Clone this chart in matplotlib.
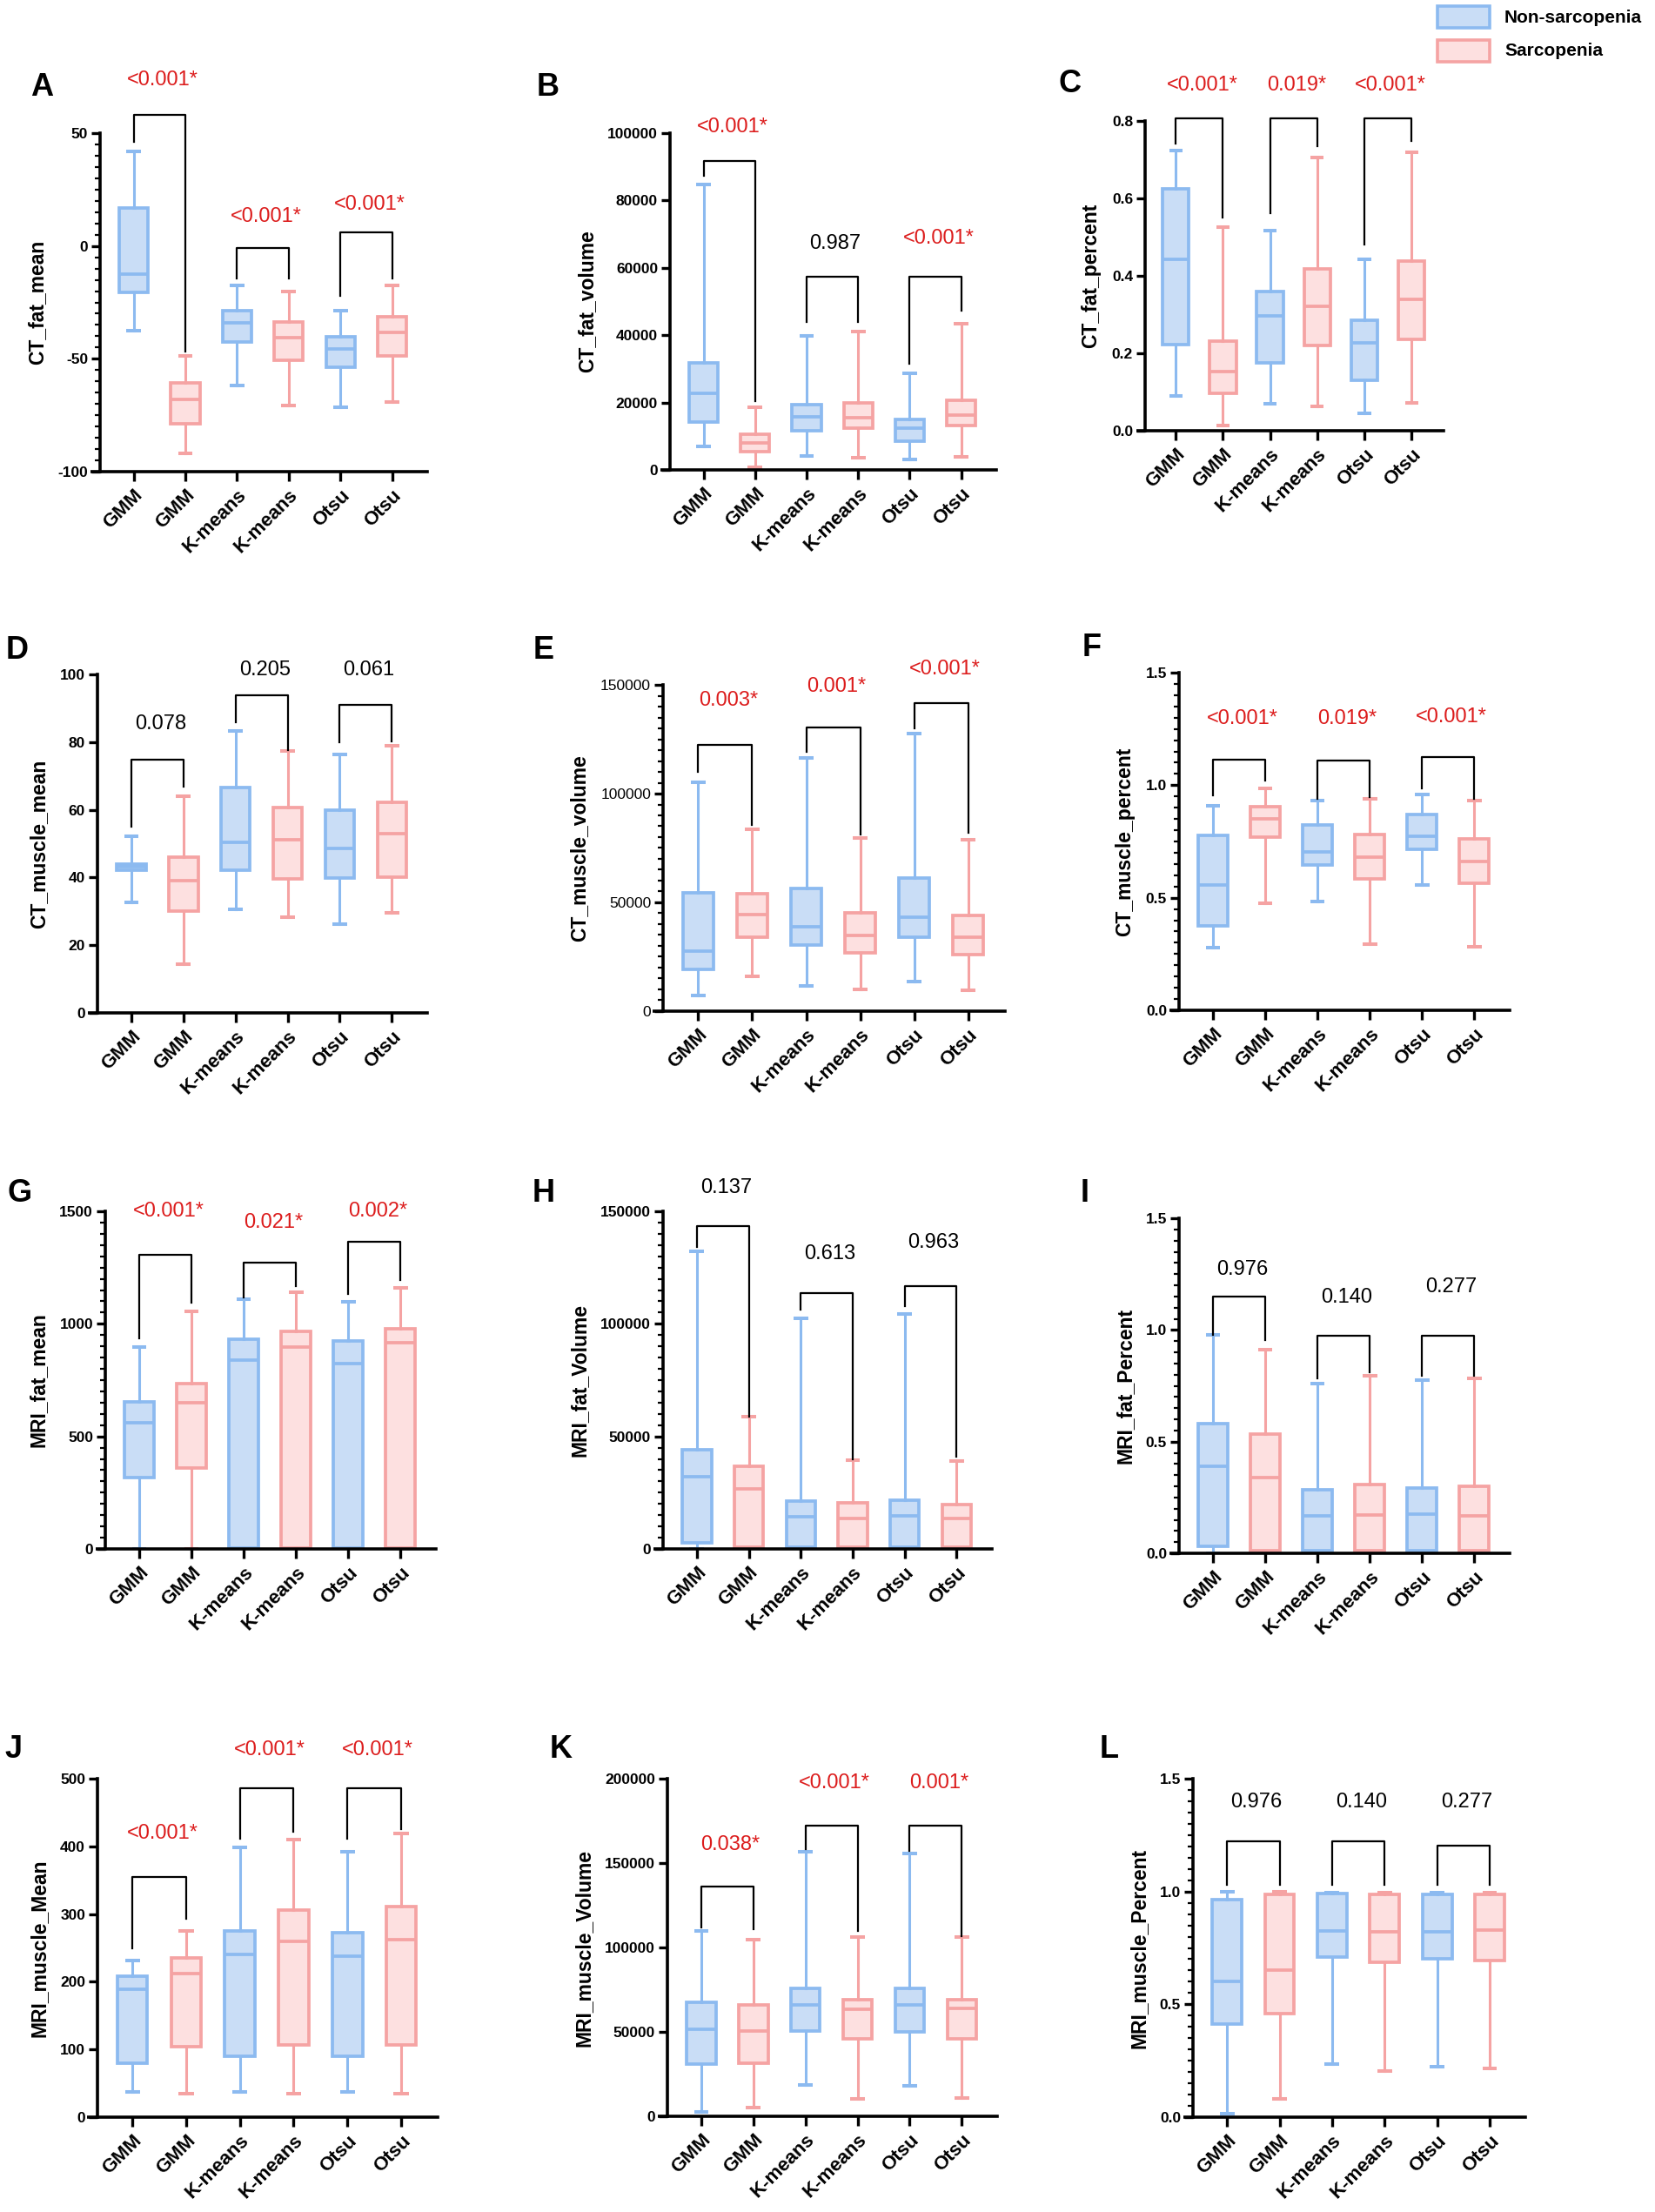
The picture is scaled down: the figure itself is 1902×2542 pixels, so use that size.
import matplotlib
matplotlib.use("Agg")
import matplotlib.pyplot as plt
from matplotlib.patches import Rectangle
from matplotlib.ticker import MultipleLocator, FormatStrFormatter

plt.rcParams['font.family'] = ['Liberation Sans', 'DejaVu Sans']
plt.rcParams['axes.unicode_minus'] = False

methods = ["GMM", "GMM", "K-means", "K-means", "Otsu", "Otsu"]
groups = ["Non-sarcopenia", "Sarcopenia"]

# each box: (whisker low, Q1, median, Q3, whisker high); order follows `methods`
ct_fat_mean = [(-37.5, -20.6, -12.4, 17.0, 41.9), (-91.9, -78.9, -67.9, -60.8, -48.7),
               (-61.9, -42.4, -34.2, -28.8, -17.5), (-70.6, -50.8, -40.6, -33.5, -20.2),
               (-71.6, -53.7, -45.6, -40.4, -28.6), (-69.3, -48.6, -38.4, -31.3, -17.5)]
ct_fat_volume = [(6900, 14100, 22700, 31900, 84800), (800, 5400, 8100, 10700, 18500),
                 (4200, 11600, 15800, 19500, 39800), (3500, 12400, 15500, 19800, 41000),
                 (3000, 8600, 12400, 15000, 28700), (3800, 13300, 16300, 20800, 43500)]
ct_fat_percent = [(0.091, 0.222, 0.443, 0.625, 0.723), (0.014, 0.097, 0.153, 0.232, 0.526),
                  (0.069, 0.176, 0.296, 0.359, 0.516), (0.063, 0.221, 0.322, 0.418, 0.706),
                  (0.046, 0.130, 0.227, 0.286, 0.443), (0.071, 0.237, 0.340, 0.439, 0.720)]
ct_muscle_mean = [(32.7, 42.1, 43.1, 44.0, 52.1), (14.5, 30.2, 39.2, 46.1, 63.9),
                  (30.7, 42.1, 50.3, 66.7, 83.2), (28.3, 39.5, 51.1, 60.7, 77.5),
                  (26.2, 39.8, 48.5, 60.0, 76.4), (29.6, 40.0, 52.9, 62.3, 79.0)]
ct_muscle_volume = [(7000, 19100, 27700, 54300, 105200), (16000, 33800, 44300, 53800, 83500),
                    (11700, 30200, 38600, 56300, 116400), (9800, 26900, 34900, 45200, 79600),
                    (13400, 33900, 43000, 61300, 127700), (9500, 26100, 33900, 44000, 78800)]
ct_muscle_percent = [(0.278, 0.375, 0.558, 0.778, 0.909), (0.475, 0.770, 0.849, 0.904, 0.987),
                     (0.483, 0.644, 0.703, 0.822, 0.932), (0.293, 0.585, 0.680, 0.782, 0.940),
                     (0.555, 0.716, 0.774, 0.869, 0.959), (0.281, 0.566, 0.661, 0.762, 0.930)]
mri_fat_mean = [(0, 318, 559, 654, 898), (0, 358, 649, 733, 1056),
                (0, 5, 838, 933, 1111), (0, 5, 898, 966, 1142),
                (0, 5, 824, 925, 1098), (0, 5, 917, 980, 1158)]
mri_fat_volume = [(0, 2800, 31900, 43900, 132300), (0, 900, 26800, 36900, 58900),
                  (0, 600, 14200, 21200, 102600), (0, 600, 13700, 20500, 39500),
                  (0, 600, 14500, 21800, 104200), (0, 600, 13400, 19700, 39000)]
mri_fat_percent = [(0, 0.030, 0.388, 0.579, 0.977), (0, 0.012, 0.340, 0.535, 0.912),
                   (0, 0.010, 0.167, 0.286, 0.761), (0, 0.010, 0.173, 0.307, 0.795),
                   (0, 0.010, 0.175, 0.294, 0.774), (0, 0.010, 0.167, 0.299, 0.782)]
mri_muscle_mean = [(36.8, 80.0, 189.5, 208.0, 231.6), (35.3, 103.7, 211.6, 235.3, 274.7),
                   (36.8, 89.5, 240.5, 274.7, 398.4), (35.3, 106.3, 260.0, 306.3, 410.5),
                   (36.8, 89.5, 238.0, 273.0, 392.0), (35.3, 106.3, 262.6, 310.5, 419.5)]
mri_muscle_volume = [(2500, 31000, 51700, 67500, 109700), (4900, 31600, 50600, 65800, 104400),
                     (18400, 50600, 65800, 75900, 156800), (10500, 45800, 63300, 69000, 106100),
                     (17900, 50000, 65800, 75900, 155700), (11000, 46000, 63700, 69000, 106100)]
mri_muscle_percent = [(0.015, 0.413, 0.603, 0.963, 1.0), (0.081, 0.458, 0.653, 0.986, 1.0),
                      (0.237, 0.709, 0.827, 0.990, 0.995), (0.204, 0.685, 0.821, 0.988, 0.995),
                      (0.224, 0.701, 0.821, 0.988, 0.995), (0.216, 0.695, 0.829, 0.988, 0.995)]

# comparison brackets per pair: (bar height, left leg end, right leg end)
ct_fat_mean_br = [(58, 46.3, -46.8), (-1, -14.3, -14.3), (6.1, -22.1, -14.3)]
ct_fat_volume_br = [(91700, 87300, 20300), (57300, 43800, 43800), (57300, 31600, 47400)]
ct_fat_percent_br = [(0.807, 0.742, 0.551), (0.807, 0.562, 0.734), (0.807, 0.48, 0.748)]
ct_muscle_mean_br = [(74.9, 55, 66.8), (93.9, 85.9, 77.7), (91, 79.9, 80.1)]
ct_muscle_volume_br = [(122300, 110000, 85500), (130400, 119400, 81000), (141500, 130000, 81900)]
ct_muscle_percent_br = [(1.113, 0.953, 1.022), (1.109, 0.94, 0.948), (1.126, 0.987, 0.94)]
mri_fat_mean_br = [(1305, 937, 1095), (1271, 1119, 1166), (1363, 1134, 1193)]
mri_fat_volume_br = [(143400, 134200, 58700), (113700, 106300, 40000), (116800, 107700, 41000)]
mri_fat_percent_br = [(1.148, 0.978, 0.955), (0.973, 0.782, 0.81), (0.973, 0.795, 0.795)]
mri_muscle_mean_br = [(354.7, 249.5, 293), (485.3, 411.6, 422), (485.3, 411.6, 425.8)]
mri_muscle_volume_br = [(136100, 111800, 110800), (172400, 158200, 109700), (172400, 157200, 106500)]
mri_muscle_percent_br = [(1.222, 1.03, 1.03), (1.222, 1.03, 1.03), (1.203, 1.03, 1.03)]

# p values and the height of their labels
ct_fat_mean_p = ["<0.001*", "<0.001*", "<0.001*"]
ct_fat_mean_py = [73.6, 13, 18.5]
ct_fat_volume_p = ["<0.001*", "0.987", "<0.001*"]
ct_fat_volume_py = [101800, 67200, 68700]
ct_fat_percent_p = ["<0.001*", "0.019*", "<0.001*"]
ct_fat_percent_py = [0.893, 0.893, 0.893]
ct_muscle_mean_p = ["0.078", "0.205", "0.061"]
ct_muscle_mean_py = [85.3, 101.3, 101.3]
ct_muscle_volume_p = ["0.003*", "0.001*", "<0.001*"]
ct_muscle_volume_py = [142700, 149200, 157300]
ct_muscle_percent_p = ["<0.001*", "0.019*", "<0.001*"]
ct_muscle_percent_py = [1.295, 1.295, 1.303]
mri_fat_mean_p = ["<0.001*", "0.021*", "0.002*"]
mri_fat_mean_py = [1500, 1450, 1500]
mri_fat_volume_p = ["0.137", "0.613", "0.963"]
mri_fat_volume_py = [160300, 131000, 136000]
mri_fat_percent_p = ["0.976", "0.140", "0.277"]
mri_fat_percent_py = [1.272, 1.147, 1.192]
mri_muscle_mean_p = ["<0.001*", "<0.001*", "<0.001*"]
mri_muscle_mean_py = [419.5, 543, 543]
mri_muscle_volume_p = ["0.038*", "<0.001*", "0.001*"]
mri_muscle_volume_py = [161000, 197300, 197300]
mri_muscle_percent_p = ["0.976", "0.140", "0.277"]
mri_muscle_percent_py = [1.397, 1.397, 1.397]

EDGE = ["#8cbaf0", "#f5a3a3"]
FILL = ["#c9ddf6", "#fde0e0"]
RED = "#dc1c1c"

W, H = 1902, 2542
fig = plt.figure(figsize=(W / 100, H / 100), dpi=100)


def add_axes(x0, x1, y0, y1):
    # pixel box of the plotting area -> figure fraction
    return fig.add_axes([x0 / W, 1 - y1 / H, (x1 - x0) / W, (y1 - y0) / H])


def draw_panel(ax, stats, ylabel, yticks, minor, brackets, ptxt, py,
               fmt=None, bold_ticks=True):
    bxp_stats = [dict(whislo=s[0], q1=s[1], med=s[2], q3=s[3], whishi=s[4], fliers=[])
                 for s in stats]
    pos = list(range(len(stats)))
    art = ax.bxp(bxp_stats, positions=pos, widths=0.56, capwidths=0.28,
                 patch_artist=True, showfliers=False, manage_ticks=False)
    for i in pos:
        c = i % 2
        art['boxes'][i].set(facecolor=FILL[c], edgecolor=EDGE[c], linewidth=2.7)
        art['medians'][i].set(color=EDGE[c], linewidth=2.7)
        for j in (2 * i, 2 * i + 1):
            art['whiskers'][j].set(color=EDGE[c], linewidth=2.2)
            art['caps'][j].set(color=EDGE[c], linewidth=2.9, solid_capstyle='butt')

    ax.set_xlim(-0.65, 5.68)
    ax.set_ylim(yticks[0], yticks[-1])
    ax.set_yticks(yticks)
    if fmt:
        ax.yaxis.set_major_formatter(FormatStrFormatter(fmt))
    if minor:
        ax.yaxis.set_minor_locator(MultipleLocator(minor))
    ax.set_xticks(pos)
    ax.set_xticklabels(methods, rotation=45, ha='right', va='top',
                       rotation_mode='anchor', fontsize=16, fontweight='bold')
    for lab in ax.get_yticklabels():
        lab.set_fontsize(12.5)
        lab.set_fontweight('bold' if bold_ticks else 'normal')
    ax.set_ylabel(ylabel, fontsize=16.5, fontweight='bold', labelpad=9)

    for side in ('top', 'right'):
        ax.spines[side].set_visible(False)
    for side in ('left', 'bottom'):
        ax.spines[side].set_linewidth(2.6)
    ax.tick_params(axis='y', which='major', length=7, width=2.4, pad=3)
    ax.tick_params(axis='y', which='minor', length=4, width=1.6)
    ax.tick_params(axis='x', which='major', length=8, width=2.4, pad=4)
    # GraphPad style: the x axis line starts a bit left of the y axis
    ax.plot([-0.03, 0], [0, 0], transform=ax.transAxes, color='black',
            lw=2.6, clip_on=False, solid_capstyle='butt')

    for k, (top, l, r) in enumerate(brackets):
        x0, x1 = 2 * k, 2 * k + 1
        ax.plot([x0, x0, x1, x1], [l, top, top, r], color='black', lw=1.6,
                clip_on=False)
        ax.text((x0 + x1) / 2 + 0.06, py[k], ptxt[k], ha='center', va='center',
                fontsize=17, color=RED if ptxt[k].endswith('*') else 'black',
                clip_on=False)


panels = [
    ("A", (115, 491, 153, 542), ct_fat_mean, "CT_fat_mean", [-100, -50, 0, 50], 5,
     ct_fat_mean_br, ct_fat_mean_p, ct_fat_mean_py, None, True, (48, 100)),
    ("B", (770, 1145, 153, 540), ct_fat_volume, "CT_fat_volume",
     [0, 20000, 40000, 60000, 80000, 100000], None,
     ct_fat_volume_br, ct_fat_volume_p, ct_fat_volume_py, None, True, (630, 100)),
    ("C", (1316, 1659, 139, 495), ct_fat_percent, "CT_fat_percent",
     [0.0, 0.2, 0.4, 0.6, 0.8], None,
     ct_fat_percent_br, ct_fat_percent_p, ct_fat_percent_py, '%.1f', True, (1229, 97)),
    ("D", (112, 491, 775, 1164), ct_muscle_mean, "CT_muscle_mean",
     [0, 20, 40, 60, 80, 100], None,
     ct_muscle_mean_br, ct_muscle_mean_p, ct_muscle_mean_py, None, True, (20, 748)),
    ("E", (762, 1155, 787, 1162), ct_muscle_volume, "CT_muscle_volume",
     [0, 50000, 100000, 150000], 5000,
     ct_muscle_volume_br, ct_muscle_volume_p, ct_muscle_volume_py, None, False, (625, 748)),
    ("F", (1355, 1735, 773, 1161), ct_muscle_percent, "CT_muscle_percent",
     [0.0, 0.5, 1.0, 1.5], 0.05,
     ct_muscle_percent_br, ct_muscle_percent_p, ct_muscle_percent_py, '%.1f', True, (1255, 745)),
    ("G", (121, 501, 1392, 1780), mri_fat_mean, "MRI_fat_mean",
     [0, 500, 1000, 1500], 50,
     mri_fat_mean_br, mri_fat_mean_p, mri_fat_mean_py, None, True, (23, 1372)),
    ("H", (762, 1140, 1392, 1780), mri_fat_volume, "MRI_fat_Volume",
     [0, 50000, 100000, 150000], 5000,
     mri_fat_volume_br, mri_fat_volume_p, mri_fat_volume_py, None, True, (625, 1372)),
    ("I", (1355, 1735, 1400, 1785), mri_fat_percent, "MRI_fat_Percent",
     [0.0, 0.5, 1.0, 1.5], 0.05,
     mri_fat_percent_br, mri_fat_percent_p, mri_fat_percent_py, '%.1f', True, (1247, 1372)),
    ("J", (112, 503, 2044, 2433), mri_muscle_mean, "MRI_muscle_Mean",
     [0, 100, 200, 300, 400, 500], None,
     mri_muscle_mean_br, mri_muscle_mean_p, mri_muscle_mean_py, None, True, (15, 2010)),
    ("K", (767, 1146, 2044, 2432), mri_muscle_volume, "MRI_muscle_Volume",
     [0, 50000, 100000, 150000, 200000], None,
     mri_muscle_volume_br, mri_muscle_volume_p, mri_muscle_volume_py, None, True, (645, 2010)),
    ("L", (1371, 1753, 2044, 2433), mri_muscle_percent, "MRI_muscle_Percent",
     [0.0, 0.5, 1.0, 1.5], 0.05,
     mri_muscle_percent_br, mri_muscle_percent_p, mri_muscle_percent_py, '%.1f', True, (1275, 2010)),
]

for (letter, box, stats, ylabel, yticks, minor, br, ptxt, py, fmt, bold, lpos) in panels:
    ax = add_axes(*box)
    draw_panel(ax, stats, ylabel, yticks, minor, br, ptxt, py, fmt, bold)
    fig.text(lpos[0] / W, 1 - lpos[1] / H, letter, ha='center', va='center',
             fontsize=26, fontweight='bold')

# legend
for k, name in enumerate(groups):
    y_top = 7 + k * 39
    fig.add_artist(Rectangle((1652 / W, 1 - (y_top + 25) / H), 60 / W, 25 / H,
                             transform=fig.transFigure, facecolor=FILL[k],
                             edgecolor=EDGE[k], linewidth=2.6))
    fig.text(1729 / W, 1 - (y_top + 13) / H, name, ha='left', va='center',
             fontsize=15, fontweight='bold')

fig.savefig("out.png", dpi=100, facecolor='white')
